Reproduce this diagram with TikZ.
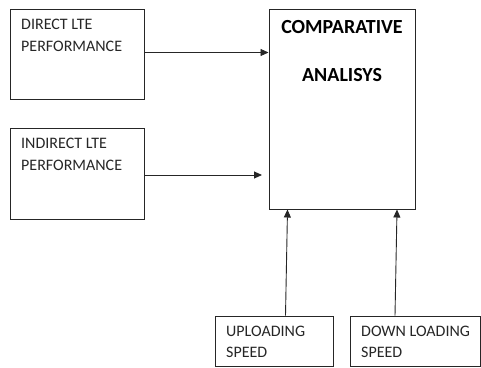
\documentclass[tikz,border=0pt]{standalone}
\usepackage{fontspec}
\setmainfont{Carlito}
\usetikzlibrary{arrows.meta,calc}
\begin{document}
\begin{tikzpicture}[x=1pt,y=1pt,
  box/.style={draw=black!85,line width=1pt,minimum width=#1,inner sep=0pt},
  lbl/.style={anchor=base west,inner sep=0pt,text=black!85,font=\fontsize{16}{22}\selectfont},
  ttl/.style={anchor=base,inner sep=0pt,font=\fontsize{20}{24}\bfseries\selectfont},
  arr/.style={draw=black!85,line width=0.9pt,-{Triangle[length=8pt,width=7pt]}}]
\useasboundingbox (0,0) rectangle (481,-367);
\node[box=134pt,minimum height=90pt] (d1) at (77,-54) {};
\node[box=134pt,minimum height=91pt] (d2) at (77,-173.5) {};
\node[box=146pt,minimum height=200pt] (ca) at (342,-109) {};
\node[box=118pt,minimum height=50pt] (up) at (274,-341) {};
\node[box=130pt,minimum height=50pt] (dn) at (415,-341) {};
\node[lbl] (t1a) at (21,-29.3) {DIRECT LTE};
\node[lbl] (t1b) at (21,-51.5) {PERFORMANCE};
\node[lbl] (t2a) at (21,-148.3) {INDIRECT LTE};
\node[lbl] (t2b) at (21,-170.5) {PERFORMANCE};
\node[ttl] (c1) at (342,-33) {COMPARATIVE};
\node[ttl] (c2) at (342,-81.5) {ANALISYS};
\node[lbl] (u1) at (226,-336) {UPLOADING};
\node[lbl] (u2) at (226,-357.3) {SPEED};
\node[lbl] (w1) at (361,-336) {DOWN LOADING};
\node[lbl] (w2) at (361,-357.3) {SPEED};
\coordinate (e2) at (262,-175);
\draw[arr] (d1.east |- 0,-52.5) -- (ca.west |- 0,-52.5);
\draw[arr] (d2.east |- e2) -- (e2);
\draw[arr] ($(up.north west)+(71,0)$) -- ($(ca.south west)+(19,0)$);
\draw[arr] ($(dn.north west)+(45.5,0)$) -- ($(ca.south west)+(128.5,0)$);
\end{tikzpicture}
\end{document}
